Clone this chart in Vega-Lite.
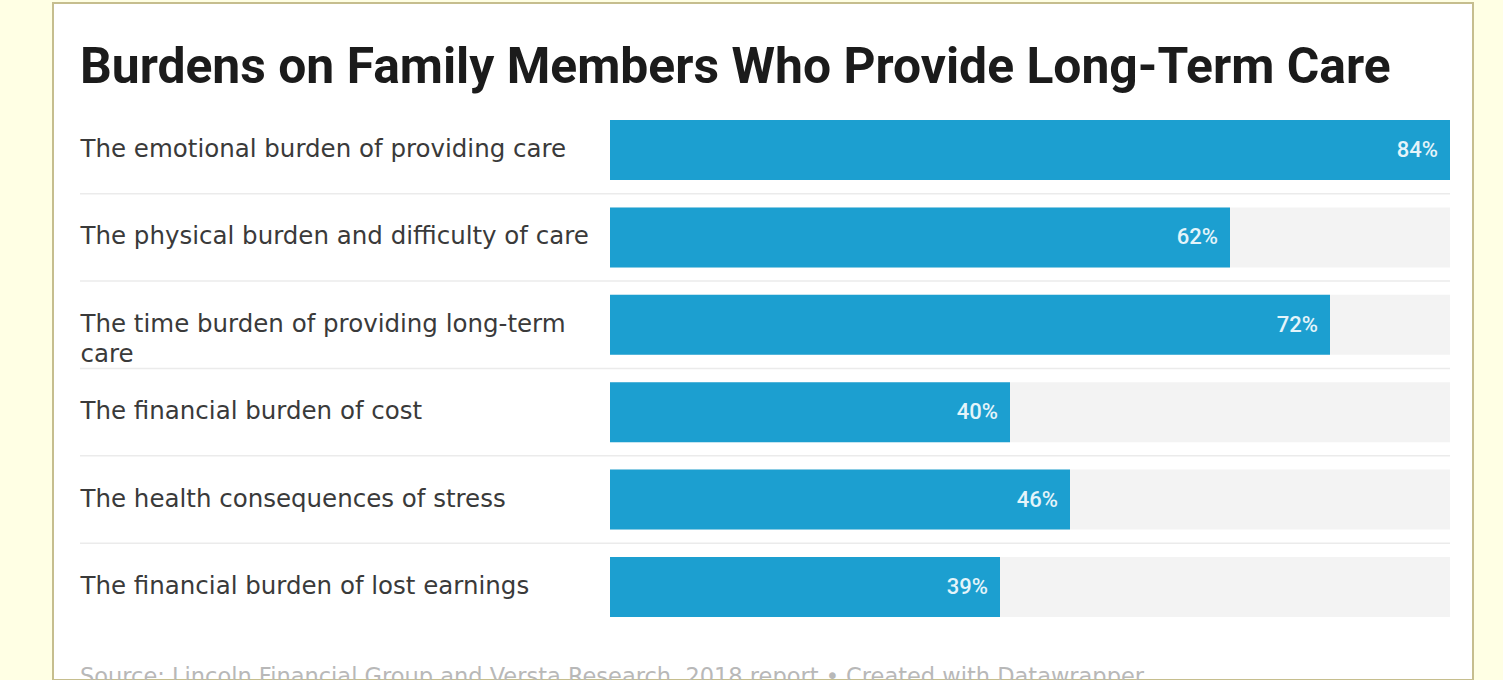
{
  "$schema": "https://vega.github.io/schema/vega-lite/v6.json",
  "autosize": {"type": "none"},
  "padding": {"left": 53, "top": 3, "right": 30, "bottom": 0},
  "width": 1420,
  "height": 677,
  "background": "#FFFFE4",
  "config": {
    "view": {"fill": "#ffffff", "stroke": "#C6BE8E", "strokeWidth": 2},
    "font": "Roboto"
  },
  "title": {
    "text": "Burdens on Family Members Who Provide Long-Term Care",
    "anchor": "start",
    "frame": "group",
    "orient": "top",
    "baseline": "alphabetic",
    "offset": -130,
    "dx": 27,
    "font": "Roboto",
    "fontSize": 49.8,
    "fontWeight": "bold",
    "color": "#1b1b1b"
  },
  "data": {
    "values": [
      {"label": "The emotional burden of providing care", "value": 84},
      {"label": "The physical burden and difficulty of care", "value": 62},
      {"label": "The time burden of providing long-term care", "value": 72},
      {"label": "The financial burden of cost", "value": 40},
      {"label": "The health consequences of stress", "value": 46},
      {"label": "The financial burden of lost earnings", "value": 39}
    ]
  },
  "transform": [{"joinaggregate": [{"op": "max", "field": "value", "as": "maxv"}]}],
  "encoding": {
    "y": {
      "field": "label",
      "type": "nominal",
      "sort": null,
      "scale": {"range": [103.3, 627.7], "paddingInner": 0.3135, "paddingOuter": 0.157},
      "axis": {
        "title": null,
        "domain": false,
        "ticks": false,
        "tickSize": 0,
        "grid": false,
        "offset": -27,
        "labelAlign": "left",
        "labelPadding": 0,
        "labelFont": "DejaVu Sans",
        "labelFontSize": 24.5,
        "labelColor": "#3a3a3a",
        "labelLimit": 580,
        "labelLineHeight": 30,
        "labelExpr": "datum.label == 'The time burden of providing long-term care' ? ['The time burden of providing long-term', 'care'] : datum.label"
      }
    }
  },
  "layer": [
    {
      "transform": [{"filter": "datum.label != 'The financial burden of lost earnings'"}],
      "mark": {"type": "rule", "color": "#ebebeb", "strokeWidth": 1.5},
      "encoding": {
        "y": {"field": "label", "type": "nominal", "sort": null, "bandPosition": 1.228},
        "x": {"field": "maxv", "type": "quantitative", "scale": {"domain": [-55.7, 86.3], "nice": false, "zero": false}, "axis": null},
        "x2": {"datum": -53}
      }
    },
    {
      "mark": {"type": "bar", "color": "#F3F3F3"},
      "encoding": {
        "x": {"field": "maxv", "type": "quantitative"}
      }
    },
    {
      "mark": {"type": "bar", "color": "#1C9FD0"},
      "encoding": {
        "x": {"field": "value", "type": "quantitative"}
      }
    },
    {
      "mark": {"type": "text", "align": "right", "baseline": "middle", "dx": -12, "font": "Roboto", "fontSize": 22, "fontWeight": 500, "color": "#E4F4FA", "text": {"expr": "datum.value + '%'"}},
      "encoding": {
        "x": {"field": "value", "type": "quantitative"}
      }
    },
    {
      "data": {"values": [{"source": "Source: Lincoln Financial Group and Versta Research, 2018 report • Created with Datawrapper"}]},
      "transform": [],
      "mark": {"type": "text", "align": "left", "baseline": "alphabetic", "dy": 97, "font": "DejaVu Sans", "fontSize": 22.5, "color": "#b8b8b8"},
      "encoding": {
        "y": {"datum": "The financial burden of lost earnings", "type": "nominal"},
        "x": {"datum": -53, "type": "quantitative"},
        "text": {"field": "source", "type": "nominal"}
      }
    }
  ]
}
